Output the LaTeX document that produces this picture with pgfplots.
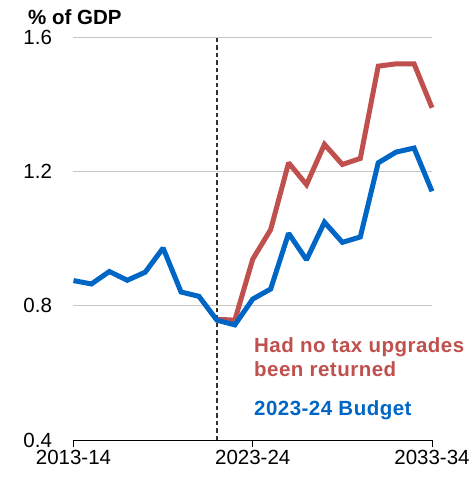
\documentclass[border=0pt]{standalone}
\usepackage{fontspec}
\setmainfont{Liberation Sans}
\usepackage{pgfplots}
\pgfplotsset{compat=1.18}
\definecolor{cblue}{RGB}{0,102,197}
\definecolor{cred}{RGB}{192,80,77}
\begin{document}
\begin{tikzpicture}
\useasboundingbox (-73.5pt,-42pt) rectangle (402.5pt,440pt);
\begin{axis}[
  scale only axis,
  width=358.5pt, height=402.7pt,
  xmin=0, xmax=20, ymin=0.4, ymax=1.6,
  axis y line=none,
  axis x line*=bottom,
  x axis line style={-, black, line width=1pt},
  xtick={0,10,20},
  xticklabels={2013-14,2023-24,2033-34},
  ytick={0.4,0.8,1.2,1.6},
  yticklabels={0.4,0.8,1.2,1.6},
  tick style={black, line width=1pt},
  xtick align=outside,
  major tick length=7pt,
  ticklabel style={font=\fontsize{20.5}{24}\selectfont},
  clip=false,
]
\addplot[gray!45, line width=0.8pt, forget plot] coordinates {(0,0.8) (20,0.8)};
\addplot[gray!45, line width=0.8pt, forget plot] coordinates {(0,1.2) (20,1.2)};
\addplot[gray!45, line width=0.8pt, forget plot] coordinates {(0,1.6) (20,1.6)};
\addplot[black!80, line width=1.6pt, dash pattern=on 4.5pt off 3pt, forget plot] coordinates {(8,0.4) (8,1.6)};
\node[anchor=east, font=\fontsize{20.5}{24}\selectfont] at (axis cs:0,0.4) [xshift=-18pt] {0.4};
\node[anchor=east, font=\fontsize{20.5}{24}\selectfont] at (axis cs:0,0.8) [xshift=-18pt] {0.8};
\node[anchor=east, font=\fontsize{20.5}{24}\selectfont] at (axis cs:0,1.2) [xshift=-18pt] {1.2};
\node[anchor=east, font=\fontsize{20.5}{24}\selectfont] at (axis cs:0,1.6) [xshift=-18pt] {1.6};
\addplot[cred, line width=5pt, line join=miter, miter limit=2] coordinates {
(8,0.760) (9,0.757) (10,0.939) (11,1.027) (12,1.226) (13,1.161) (14,1.281)
(15,1.221) (16,1.239) (17,1.514) (18,1.521) (19,1.521) (20,1.390)};
\addplot[cblue, line width=5pt, line join=miter, miter limit=2] coordinates {
(0,0.875) (1,0.865) (2,0.902) (3,0.876) (4,0.900) (5,0.972) (6,0.841)
(7,0.828) (8,0.757) (9,0.743) (10,0.820) (11,0.850) (12,1.016) (13,0.937)
(14,1.049) (15,0.989) (16,1.005) (17,1.226) (18,1.258) (19,1.270) (20,1.141)};
\node[anchor=base west, text=cred, font=\fontsize{20.5}{24}\selectfont\bfseries\addfontfeature{LetterSpace=2.4}] at (axis cs:9.88,0.66) {Had no tax upgrades};
\node[anchor=base west, text=cred, font=\fontsize{20.5}{24}\selectfont\bfseries\addfontfeature{LetterSpace=2.4}] at (axis cs:9.88,0.588) {been returned};
\node[anchor=base west, text=cblue, font=\fontsize{20.5}{24}\selectfont\bfseries\addfontfeature{LetterSpace=2.4}] at (axis cs:9.88,0.4716) {2023-24 Budget};
\end{axis}
\node[anchor=base west, font=\fontsize{20.5}{24}\selectfont\bfseries, inner sep=0pt] at (-45.5pt,415pt) {\% of GDP};
\end{tikzpicture}
\end{document}
